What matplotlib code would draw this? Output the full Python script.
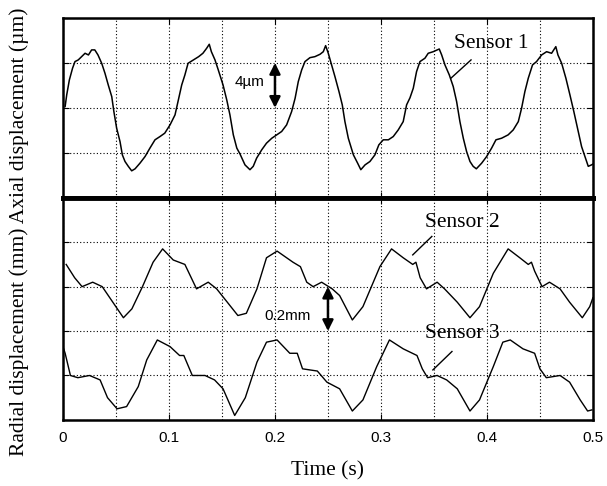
import numpy as np
import matplotlib
matplotlib.use("Agg")
import matplotlib.pyplot as plt
from matplotlib.ticker import MultipleLocator, FormatStrFormatter

# Sensor 1 - axial displacement (um)
t1 = [0.002, 0.0035, 0.006, 0.009, 0.0113, 0.0144, 0.0176, 0.0208, 0.024, 0.027,
      0.030, 0.033, 0.0365, 0.0396, 0.0427, 0.046, 0.048, 0.0506, 0.0538, 0.056,
      0.0585, 0.0616, 0.0648, 0.068, 0.0726, 0.0774, 0.082, 0.0868, 0.0915, 0.096,
      0.101, 0.1057, 0.1088, 0.112, 0.115, 0.118, 0.123, 0.128, 0.132, 0.1355,
      0.138, 0.140, 0.1434, 0.1465, 0.151, 0.1545, 0.1575, 0.1607, 0.164, 0.167,
      0.1717, 0.1764, 0.1795, 0.1827, 0.1875, 0.192, 0.197, 0.2016, 0.2063, 0.211,
      0.2157, 0.219, 0.222, 0.2252, 0.2283, 0.233, 0.2377, 0.2425, 0.2456, 0.2478,
      0.2503, 0.2535, 0.2566, 0.2604, 0.2635, 0.266, 0.2692, 0.274, 0.278, 0.281,
      0.285, 0.2896, 0.2943, 0.298, 0.3022, 0.307, 0.3116, 0.3163, 0.321, 0.3242,
      0.3274, 0.3305, 0.3336, 0.3368, 0.3415, 0.3446, 0.3493, 0.355, 0.3573, 0.3604,
      0.3645, 0.3682, 0.3714, 0.3745, 0.3777, 0.3808, 0.384, 0.387, 0.390, 0.395,
      0.3997, 0.4044, 0.4085, 0.4138, 0.420, 0.4248, 0.4296, 0.4327, 0.4358, 0.439,
      0.443, 0.4468, 0.4516, 0.4563, 0.461, 0.465, 0.467, 0.4705, 0.4745, 0.4783,
      0.482, 0.4862, 0.4893, 0.4925, 0.4956, 0.4987, 0.500]
s1 = [0.12, 1.16, 2.49, 3.53, 4.12, 4.27, 4.56, 4.86, 4.71, 5.16,
      5.16, 4.71, 3.97, 3.08, 2.04, 1.0, -0.33, -1.8, -3.0, -4.18,
      -4.77, -5.2, -5.6, -5.42, -4.92, -4.33, -3.58, -2.84, -2.55, -2.25,
      -1.51, -0.62, 0.71, 2.04, 2.93, 3.97, 4.27, 4.56, 4.86, 5.3,
      5.66, 5.0, 4.27, 3.38, 2.04, 0.71, -0.62, -2.4, -3.58, -4.1,
      -5.07, -5.5, -5.2, -4.47, -3.73, -3.14, -2.7, -2.4, -2.1, -1.51,
      -0.33, 0.86, 2.34, 3.38, 4.12, 4.47, 4.56, 4.77, 5.0, 5.54,
      4.86, 3.82, 2.78, 1.45, 0.27, -1.22, -2.7, -4.18, -4.92, -5.5,
      -5.07, -4.77, -4.18, -3.29, -2.84, -2.84, -2.55, -1.96, -1.22, 0.27,
      0.9, 1.75, 3.23, 4.12, 4.42, 4.86, 5.0, 5.24, 4.71, 3.82,
      2.93, 1.9, 0.56, -1.22, -2.7, -3.88, -4.77, -5.2, -5.42, -4.92,
      -4.33, -3.58, -2.84, -2.7, -2.4, -1.96, -1.22, -0.03, 1.45, 2.64,
      3.82, 4.12, 4.71, 5.0, 4.86, 5.45, 4.71, 3.97, 2.64, 1.16,
      -0.33, -2.1, -3.44, -4.33, -5.2, -5.07, -5.0]

# Sensor 2 - radial displacement (mm)
t2 = [0.003, 0.011, 0.018, 0.028, 0.037, 0.047, 0.057, 0.065, 0.075, 0.085,
      0.094, 0.104, 0.115, 0.120, 0.126, 0.137, 0.145, 0.155, 0.165, 0.173,
      0.183, 0.192, 0.202, 0.217, 0.224, 0.230, 0.236, 0.244, 0.254, 0.261,
      0.273, 0.283, 0.299, 0.310, 0.321, 0.330, 0.333, 0.337, 0.343, 0.353,
      0.360, 0.372, 0.384, 0.393, 0.406, 0.420, 0.431, 0.439, 0.442, 0.445,
      0.452, 0.459, 0.469, 0.478, 0.490, 0.497, 0.500]
s2 = [0.70, 0.64, 0.60, 0.62, 0.60, 0.53, 0.46, 0.50, 0.60, 0.71,
      0.77, 0.72, 0.70, 0.65, 0.59, 0.62, 0.59, 0.53, 0.47, 0.48,
      0.59, 0.73, 0.76, 0.71, 0.69, 0.62, 0.60, 0.62, 0.59, 0.56,
      0.45, 0.51, 0.69, 0.77, 0.73, 0.70, 0.71, 0.64, 0.59, 0.62,
      0.59, 0.53, 0.46, 0.51, 0.66, 0.77, 0.73, 0.70, 0.71, 0.67,
      0.60, 0.62, 0.59, 0.53, 0.46, 0.51, 0.55]

# Sensor 3 - radial displacement (mm)
t3 = [0.000, 0.002, 0.007, 0.014, 0.025, 0.035, 0.042, 0.051, 0.060, 0.071,
      0.079, 0.089, 0.101, 0.110, 0.114, 0.122, 0.134, 0.143, 0.151, 0.162,
      0.172, 0.183, 0.192, 0.202, 0.214, 0.221, 0.226, 0.240, 0.249, 0.261,
      0.273, 0.283, 0.296, 0.308, 0.321, 0.334, 0.339, 0.344, 0.353, 0.362,
      0.372, 0.384, 0.393, 0.406, 0.415, 0.422, 0.434, 0.445, 0.450, 0.456,
      0.469, 0.478, 0.488, 0.495, 0.499]
s3 = [0.33, 0.30, 0.20, 0.19, 0.20, 0.18, 0.10, 0.05, 0.06, 0.15,
      0.27, 0.36, 0.33, 0.29, 0.29, 0.20, 0.20, 0.18, 0.14, 0.02,
      0.10, 0.26, 0.35, 0.36, 0.30, 0.30, 0.23, 0.22, 0.17, 0.14,
      0.04, 0.09, 0.24, 0.36, 0.32, 0.29, 0.23, 0.19, 0.20, 0.18,
      0.14, 0.04, 0.09, 0.24, 0.35, 0.36, 0.32, 0.30, 0.23, 0.19,
      0.20, 0.17, 0.09, 0.04, 0.045]

xticks = [0, 0.1, 0.2, 0.3, 0.4, 0.5]

serif = "Liberation Serif"
sans = "Liberation Sans"

fig = plt.figure(figsize=(6.07, 4.86), dpi=100)
ax1 = fig.add_axes([0.1038, 0.593, 0.873, 0.370])
ax2 = fig.add_axes([0.1038, 0.136, 0.873, 0.457])

for ax in (ax1, ax2):
    ax.set_xlim(0, 0.5)
    ax.xaxis.set_major_locator(MultipleLocator(0.1))
    ax.xaxis.set_minor_locator(MultipleLocator(0.05))
    ax.grid(True, which="both", linestyle=(0, (1, 2)), linewidth=0.8, color="black")
    ax.tick_params(which="both", direction="in", top=True, right=True,
                   length=4, width=0.8, labelleft=False)
    ax.tick_params(which="minor", length=0)
    for sp in ax.spines.values():
        sp.set_linewidth(1.8)

ax1.set_ylim(-8, 8)
ax1.yaxis.set_major_locator(MultipleLocator(4))
ax1.tick_params(labelbottom=False)
ax1.spines["bottom"].set_linewidth(3.5)

ax2.set_ylim(0, 1.0)
ax2.yaxis.set_major_locator(MultipleLocator(0.2))
ax2.spines["top"].set_linewidth(3.5)
ax2.set_xticks(xticks)
ax2.xaxis.set_major_formatter(FormatStrFormatter("%g"))
for lab in ax2.get_xticklabels():
    lab.set_fontfamily(sans)
    lab.set_fontsize(11)
ax2.tick_params(axis="x", pad=8)

ax1.plot(t1, s1, color="black", linewidth=1.1)
ax2.plot(t2, s2, color="black", linewidth=1.0)
ax2.plot(t3, s3, color="black", linewidth=1.0)

# annotations
arrow = dict(arrowstyle="<|-|>", color="black", lw=1.8,
             mutation_scale=16, shrinkA=0, shrinkB=0)
ax1.annotate("", xy=(0.2, 0), xytext=(0.2, 4), arrowprops=arrow)
ax1.text(0.176, 2.3, "4µm", fontfamily=sans, fontsize=11, ha="center", va="center")
ax1.text(0.404, 5.7, "Sensor 1", fontfamily=serif, fontsize=15.5, ha="center", va="center")
ax1.plot([0.385, 0.366], [4.27, 2.64], color="black", linewidth=1.0)

ax2.annotate("", xy=(0.25, 0.4), xytext=(0.25, 0.6), arrowprops=arrow)
ax2.text(0.212, 0.468, "0.2mm", fontfamily=sans, fontsize=11, ha="center", va="center")
ax2.text(0.377, 0.89, "Sensor 2", fontfamily=serif, fontsize=15.5, ha="center", va="center")
ax2.plot([0.348, 0.330], [0.826, 0.743], color="black", linewidth=1.0)
ax2.text(0.377, 0.39, "Sensor 3", fontfamily=serif, fontsize=15.5, ha="center", va="center")
ax2.plot([0.367, 0.349], [0.308, 0.225], color="black", linewidth=1.0)

fig.text(0.540, 0.031, "Time (s)", fontfamily=serif, fontsize=15.5, ha="center", va="center")
fig.text(0.032, 0.523, "Radial displacement (mm) Axial displacement (µm)",
         fontfamily=serif, fontsize=15.5, rotation=90, ha="center", va="center")

fig.savefig("out.png", dpi=100)
